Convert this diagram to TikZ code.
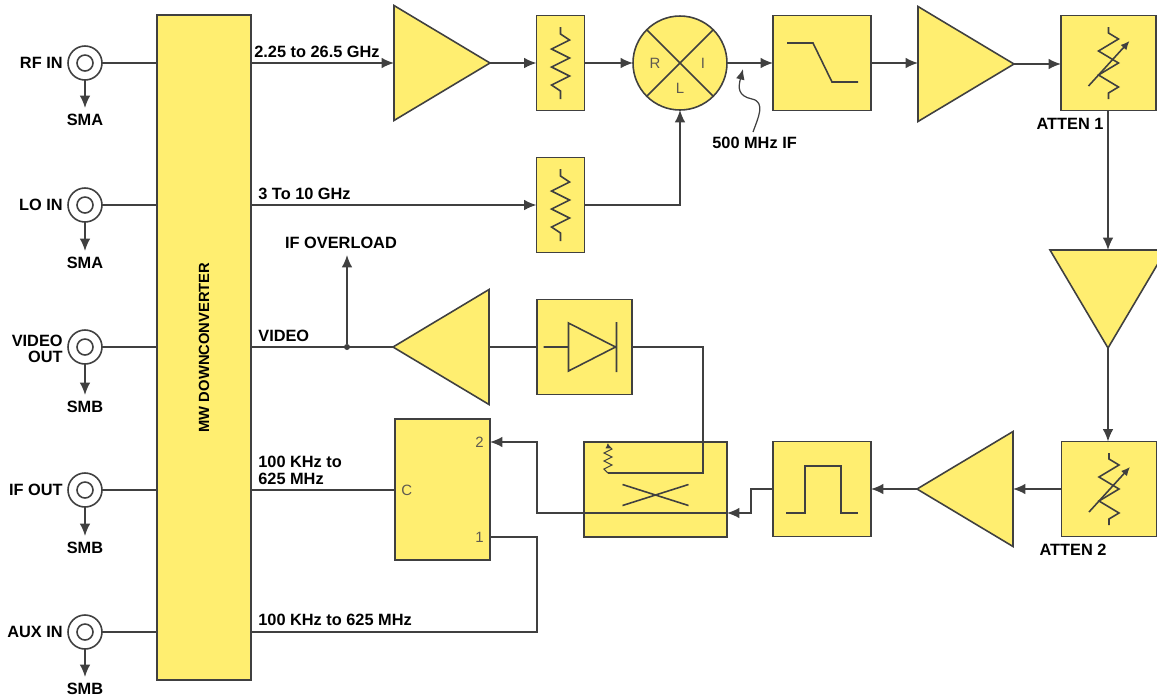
\documentclass[tikz,border=0pt]{standalone}
\usepackage{fontspec}
\setmainfont{Liberation Sans}
\usetikzlibrary{arrows.meta,shapes.geometric,positioning}

\definecolor{amber}{RGB}{255,238,112}
\definecolor{edge}{RGB}{64,64,64}
\definecolor{pinmark}{RGB}{95,90,80}

\tikzset{
  blk/.style={draw=edge,fill=amber,line width=0.9pt,inner sep=0pt,outer sep=0pt},
  amp/.style={blk,isosceles triangle,isosceles triangle stretches,minimum width=2.3cm,minimum height=1.92cm,anchor=lower side},
  port/.style={circle,draw=edge,fill=white,line width=0.9pt,minimum size=0.68cm,inner sep=0pt,outer sep=0pt,
    path picture={\draw[edge,line width=0.9pt] (path picture bounding box.center) circle (0.16cm);}},
  wire/.style={draw=edge,line width=0.9pt},
  arr/.style={wire,-{Latex[length=7pt,width=6pt]}},
  sym/.style={draw=edge,line width=0.9pt},
  lbl/.style={font=\bfseries\fontsize{9.3}{9.3}\selectfont,inner sep=0pt},
  con/.style={lbl,inner sep=3pt},
  pin/.style={font=\fontsize{8.5}{9}\selectfont,text=pinmark,inner sep=0pt},
}

\begin{document}
\begin{tikzpicture}[x=0.02cm,y=-0.02cm]
\useasboundingbox (0,0) rectangle (1157,698);

% downconverter block
\node[blk,minimum width=1.88cm,minimum height=13.3cm] (mw) at (204,347.5) {};
\node[rotate=90,font=\bfseries\fontsize{8.4}{9}\selectfont] (mwtxt) at (mw) {MW DOWNCONVERTER};

% front panel ports
\node[port] (rfin) at (85,63) {};
\node[port] (loin) at (85,205) {};
\node[port] (vout) at (85,347) {};
\node[port] (ifout) at (85,490) {};
\node[port] (auxin) at (85,632) {};

\node[lbl,anchor=east] (rfinlbl) at (63,63) {RF IN};
\node[lbl,anchor=east] (loinlbl) at (63,205) {LO IN};
\node[lbl,anchor=east,align=right] (voutlbl) at (63,349) {VIDEO\\OUT};
\node[lbl,anchor=east] (ifoutlbl) at (63,490) {IF OUT};
\node[lbl,anchor=east] (auxinlbl) at (63,632) {AUX IN};

\node[con,anchor=base] (rfcon) at (85,125) {SMA};
\node[con,anchor=base] (locon) at (85,268) {SMA};
\node[con,anchor=base] (voutcon) at (85,412) {SMB};
\node[con,anchor=base] (ifoutcon) at (85,553) {SMB};
\node[con,anchor=base] (auxcon) at (85,694) {SMB};

\draw[arr] (rfin) -- (rfcon);
\draw[arr] (loin) -- (locon);
\draw[arr] (vout) -- (voutcon);
\draw[arr] (ifout) -- (ifoutcon);
\draw[arr] (auxin) -- (auxcon);

\draw[wire] (rfin) -- (rfin -| mw.west);
\draw[wire] (loin) -- (loin -| mw.west);
\draw[wire] (vout) -- (vout -| mw.west);
\draw[wire] (ifout) -- (ifout -| mw.west);
\draw[wire] (auxin) -- (auxin -| mw.west);

% RF chain
\node[amp] (rfamp) at (394,63) {};
\node[blk,minimum width=0.96cm,minimum height=1.9cm] (rfpad) at (560.5,63) {};
\node[blk,circle,minimum size=1.88cm] (mix) at (680,63) {};
\node[blk,minimum width=1.96cm,minimum height=1.9cm] (lpf) at (822,63) {};
\node[amp] (ifamp) at (918,64) {};
\node[blk,minimum size=1.9cm] (att1) at (1108.5,63) {};

\node[lbl,anchor=base west] (rfband) at (254,57) {2.25 to 26.5 GHz};
\draw[arr] (rfin -| mw.east) -- (rfamp.lower side);
\draw[arr] (rfamp.apex) -- (rfpad);
\draw[arr] (rfpad) -- (mix);
\draw[arr] (mix) -- (lpf);
\draw[arr] (lpf) -- (lpf -| ifamp.lower side);
\draw[arr] (ifamp.apex) -- (ifamp.apex -| att1.west);

\draw[sym,shift={(rfpad.center)}] (0,-36) -- (0,-29) -- (9,-23) -- (-9,-14) -- (9,-5) -- (-9,4) -- (9,13) -- (-9,22) -- (0,28) -- (0,36);
\draw[sym] (mix.north west) -- (mix.south east) (mix.south west) -- (mix.north east);
\node[pin] (mixr) at (655,63) {R};
\node[pin] (mixi) at (703,63) {I};
\node[pin] (mixl) at (680,88) {L};
\draw[sym,shift={(lpf.center)}] (-35,-20) -- (-9,-20) -- (10,19) -- (36,19);
\draw[sym,shift={(att1.center)}] (0,-36) -- (0,-30) -- (10,-24) -- (-10,-12) -- (10,0) -- (-10,12) -- (10,24) -- (0,30) -- (0,36);
\draw[sym,-{Latex[length=5pt,width=4.5pt]},shift={(att1.center)}] (-20,23) -- (21,-22);
\node[lbl,anchor=base] (att1lbl) at (1070,129) {ATTEN 1};

% IF marker
\node[lbl,anchor=base west] (iflbl) at (712,148) {500 MHz IF};
\draw[wire,line width=0.7pt,-{Latex[length=6pt,width=5pt]}] (753,132) .. controls (758,118) and (766,102) .. (752,99) .. controls (738,96) and (738,88) .. (743,69);

% LO path
\node[blk,minimum width=0.96cm,minimum height=1.9cm] (lopad) at (560.5,205) {};
\node[lbl,anchor=base west] (loband) at (258,199) {3 To 10 GHz};
\draw[arr] (loin -| mw.east) -- (lopad);
\draw[arr] (lopad.east) -| (mix.south);
\draw[sym,shift={(lopad.center)}] (0,-36) -- (0,-29) -- (9,-23) -- (-9,-14) -- (9,-5) -- (-9,4) -- (9,13) -- (-9,22) -- (0,28) -- (0,36);

% IF return chain
\node[amp,shape border rotate=270,minimum width=2.32cm,minimum height=1.96cm] (drvamp) at (1108,250) {};
\node[blk,minimum size=1.9cm] (att2) at (1109,489) {};
\node[amp,shape border rotate=180] (bpamp) at (1013,489) {};
\node[blk,minimum width=1.96cm,minimum height=1.9cm] (bpf) at (822,489) {};
\node[blk,minimum width=2.86cm,minimum height=1.9cm] (cpl) at (655.5,489.5) {};
\node[blk,minimum width=1.9cm,minimum height=2.82cm] (sw) at (442.5,489.5) {};

\draw[arr] (att1.south -| drvamp.lower side) -- (drvamp.lower side);
\draw[arr] (drvamp.apex) -- (drvamp.apex |- att2.north);
\draw[arr] (att2) -- (bpamp.lower side);
\draw[arr] (bpamp.apex) -- (bpf);

\draw[sym,shift={(att2.center)}] (0,-36) -- (0,-30) -- (10,-24) -- (-10,-12) -- (10,0) -- (-10,12) -- (10,24) -- (0,30) -- (0,36);
\draw[sym,-{Latex[length=5pt,width=4.5pt]},shift={(att2.center)}] (-20,23) -- (21,-22);
\node[lbl,anchor=base] (att2lbl) at (1073,555) {ATTEN 2};
\draw[sym,shift={(bpf.center)}] (-36,24) -- (-17,24) -- (-17,-23) -- (19,-23) -- (19,24) -- (36,24);

% coupler and switch
\coordinate (cplin) at (727,513);
\coordinate (sw2) at (490,442);
\coordinate (sw1) at (490,537);
\draw[arr] (bpf.west) -- ++(-22,0) |- (cplin);
\draw[arr] (cplin) -- ++(-190,0) |- (sw2);
\draw[sym,shift={(cpl.center)}] (-33,-5) -- (33,16) (-33,16) -- (33,-5);
\node[pin,anchor=east] (pin2) at (484,442) {2};
\node[pin,anchor=west] (pinc) at (401,490) {C};
\node[pin,anchor=east] (pin1) at (484,537) {1};
\draw[wire] (ifout -| mw.east) -- (ifout -| sw.west);
\draw[wire] (sw1) -- ++(47,0) |- (auxin -| mw.east);
\node[lbl,anchor=north west,align=left] (ifband) at (258,456) {100 KHz to\\625 MHz};
\node[lbl,anchor=base west] (auxband) at (258,625) {100 KHz to 625 MHz};

% video detector
\node[blk,minimum size=1.9cm] (det) at (584.5,347) {};
\node[amp,shape border rotate=180] (vidamp) at (489,347) {};
\draw[sym,shift={(det.center)}] (-41,0) -- (-16,0) (-16,-24) -- (-16,24) -- (31,0) -- cycle (32,-25) -- (32,25);
\draw[wire] (det.east) -- (703,347) -- (703,473) -- (608,473);
\draw[sym,line width=0.6pt,-{Latex[length=3pt,width=3pt]}] (608,473) -- (604,469) -- (612,465) -- (604,461) -- (612,457) -- (604,453) -- (612,449) -- (608,445) -- (608,443);
\draw[wire] (det) -- (vidamp.lower side);
\draw[wire] (vidamp.apex) -- (vout -| mw.east);
\node[circle,fill=edge,inner sep=0pt,minimum size=0.12cm] (tap) at (347,347) {};
\node[lbl,anchor=base] (ovl) at (341,248) {IF OVERLOAD};
\draw[arr] (tap) -- ++(0,-92);
\node[lbl,anchor=base west] (vidlbl) at (258,341) {VIDEO};
\end{tikzpicture}
\end{document}
